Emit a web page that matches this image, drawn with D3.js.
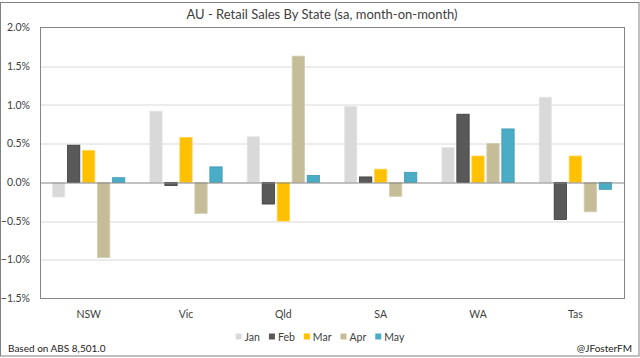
<!DOCTYPE html>
<html>
<head>
<meta charset="utf-8">
<script src="https://cdn.jsdelivr.net/npm/d3@7"></script>
<style>
  body { margin: 0; background: #fff; }
  text { font-family: Lato, "Open Sans", sans-serif; }
</style>
</head>
<body>
<div id="chart"></div>
<script>
// Data
const states = ['NSW', 'Vic', 'Qld', 'SA', 'WA', 'Tas'];
const months = ['Jan', 'Feb', 'Mar', 'Apr', 'May'];
const jan = [-0.19, 0.92, 0.59, 0.98, 0.45, 1.10];
const feb = [0.48, -0.04, -0.28, 0.07, 0.88, -0.48];
const mar = [0.41, 0.58, -0.50, 0.17, 0.34, 0.34];
const apr = [-0.97, -0.40, 1.63, -0.18, 0.50, -0.38];
const may = [0.06, 0.20, 0.09, 0.13, 0.69, -0.09];
const yTicks = [2.0, 1.5, 1.0, 0.5, 0.0, -0.5, -1.0, -1.5];
const colors = ['#d9d9d9', '#595959', '#ffc000', '#c4bd97', '#4bacc6'];
const strokes = ['#e6e6e6', '#3a3a3a', '#ffd24d', '#d2cdb0', '#3d9ab3'];

const series = [jan, feb, mar, apr, may];
const data = states.map((s, i) => ({state: s, values: months.map((m, j) => ({month: m, idx: j, value: series[j][i]}))}));

const W = 640, H = 358;
const margin = {top: 27.5, right: 16, bottom: 59.5, left: 40};
const width = W - margin.left - margin.right;
const height = H - margin.top - margin.bottom;

const svg = d3.select('#chart').append('svg')
    .attr('width', W)
    .attr('height', H);

// Outer frame
svg.append('rect')
    .attr('x', 0.5).attr('y', 2.5)
    .attr('width', 638.5).attr('height', 353.5)
    .attr('fill', 'none')
    .attr('stroke', '#808080');

const chart = svg.append('g')
    .attr('transform', `translate(${margin.left},${margin.top})`);

const x0 = d3.scaleBand().domain(states).range([0, width]);
const x1 = d3.scaleBand().domain(months)
    .range([0, 75]).paddingInner(0.18).paddingOuter(0.09);
const y = d3.scaleLinear().domain([-1.5, 2.0]).range([height, 0]);

// Gridlines
chart.selectAll('.grid')
    .data(yTicks.filter(d => d !== 0 && d !== 2.0 && d !== -1.5))
    .join('line')
    .attr('class', 'grid')
    .attr('x1', 0).attr('x2', width)
    .attr('y1', d => Math.round(y(d)) + 0.5)
    .attr('y2', d => Math.round(y(d)) + 0.5)
    .attr('stroke', '#d9d9d9');

// Tick labels
svg.append('g').selectAll('text')
    .data(yTicks)
    .join('text')
    .attr('x', 30)
    .attr('y', d => margin.top + y(d))
    .attr('dy', '0.35em')
    .attr('text-anchor', 'end')
    .attr('font-size', 10.5)
    .attr('fill', '#404040')
    .text(d => d3.format('.1f')(d) + '%');

// Bars
const groups = chart.selectAll('.group')
    .data(data)
    .join('g')
    .attr('class', 'group')
    .attr('transform', d => `translate(${x0(d.state) + (x0.bandwidth() - 75) / 2},0)`);

groups.selectAll('rect')
    .data(d => d.values)
    .join('rect')
    .attr('x', d => x1(d.month))
    .attr('y', d => y(Math.max(0, d.value)))
    .attr('width', x1.bandwidth())
    .attr('height', d => Math.abs(y(d.value) - y(0)))
    .attr('fill', d => colors[d.idx])
    .attr('stroke', d => strokes[d.idx])
    .attr('stroke-width', 0.8);

// Zero line
chart.append('line')
    .attr('x1', 0).attr('x2', width)
    .attr('y1', Math.round(y(0)) + 0.5).attr('y2', Math.round(y(0)) + 0.5)
    .attr('stroke', '#868686');

// Plot border
chart.append('rect')
    .attr('x', 0.5).attr('y', 0)
    .attr('width', width).attr('height', height)
    .attr('fill', 'none')
    .attr('stroke', '#868686');

// Category labels
chart.selectAll('.cat')
    .data(states)
    .join('text')
    .attr('class', 'cat')
    .attr('x', d => x0(d) + x0.bandwidth() / 2)
    .attr('y', height + 19)
    .attr('text-anchor', 'middle')
    .attr('font-size', 10.5)
    .attr('fill', '#404040')
    .text(d => d);

// Title
svg.append('text')
    .attr('x', 322).attr('y', 19)
    .attr('text-anchor', 'middle')
    .attr('font-size', 13)
    .attr('fill', '#404040')
    .text('AU - Retail Sales By State (sa, month-on-month)');

// Legend, laid out by measured text widths and centred
const legend = svg.append('g');
const items = legend.selectAll('g')
    .data(months)
    .join('g');
items.append('rect')
    .attr('x', 0).attr('y', -3.5)
    .attr('width', 6).attr('height', 6)
    .attr('fill', (d, i) => colors[i]);
items.append('text')
    .attr('x', 9).attr('dy', '0.35em')
    .attr('font-size', 10.5)
    .attr('fill', '#404040')
    .text(d => d);
let lx = 0;
const offsets = [];
items.each(function() {
    offsets.push(lx);
    lx += 9 + d3.select(this).select('text').node().getComputedTextLength() + 9;
});
items.attr('transform', (d, i) => `translate(${offsets[i]},0)`);
legend.attr('transform', `translate(${320 - (lx - 9) / 2},337)`);

// Footer notes
svg.append('text')
    .attr('x', 8).attr('y', 352)
    .attr('font-size', 10)
    .attr('fill', '#222')
    .text('Based on ABS 8,501.0');
svg.append('text')
    .attr('x', 632).attr('y', 352)
    .attr('text-anchor', 'end')
    .attr('font-size', 10)
    .attr('fill', '#222')
    .text('@JFosterFM');
</script>
</body>
</html>
